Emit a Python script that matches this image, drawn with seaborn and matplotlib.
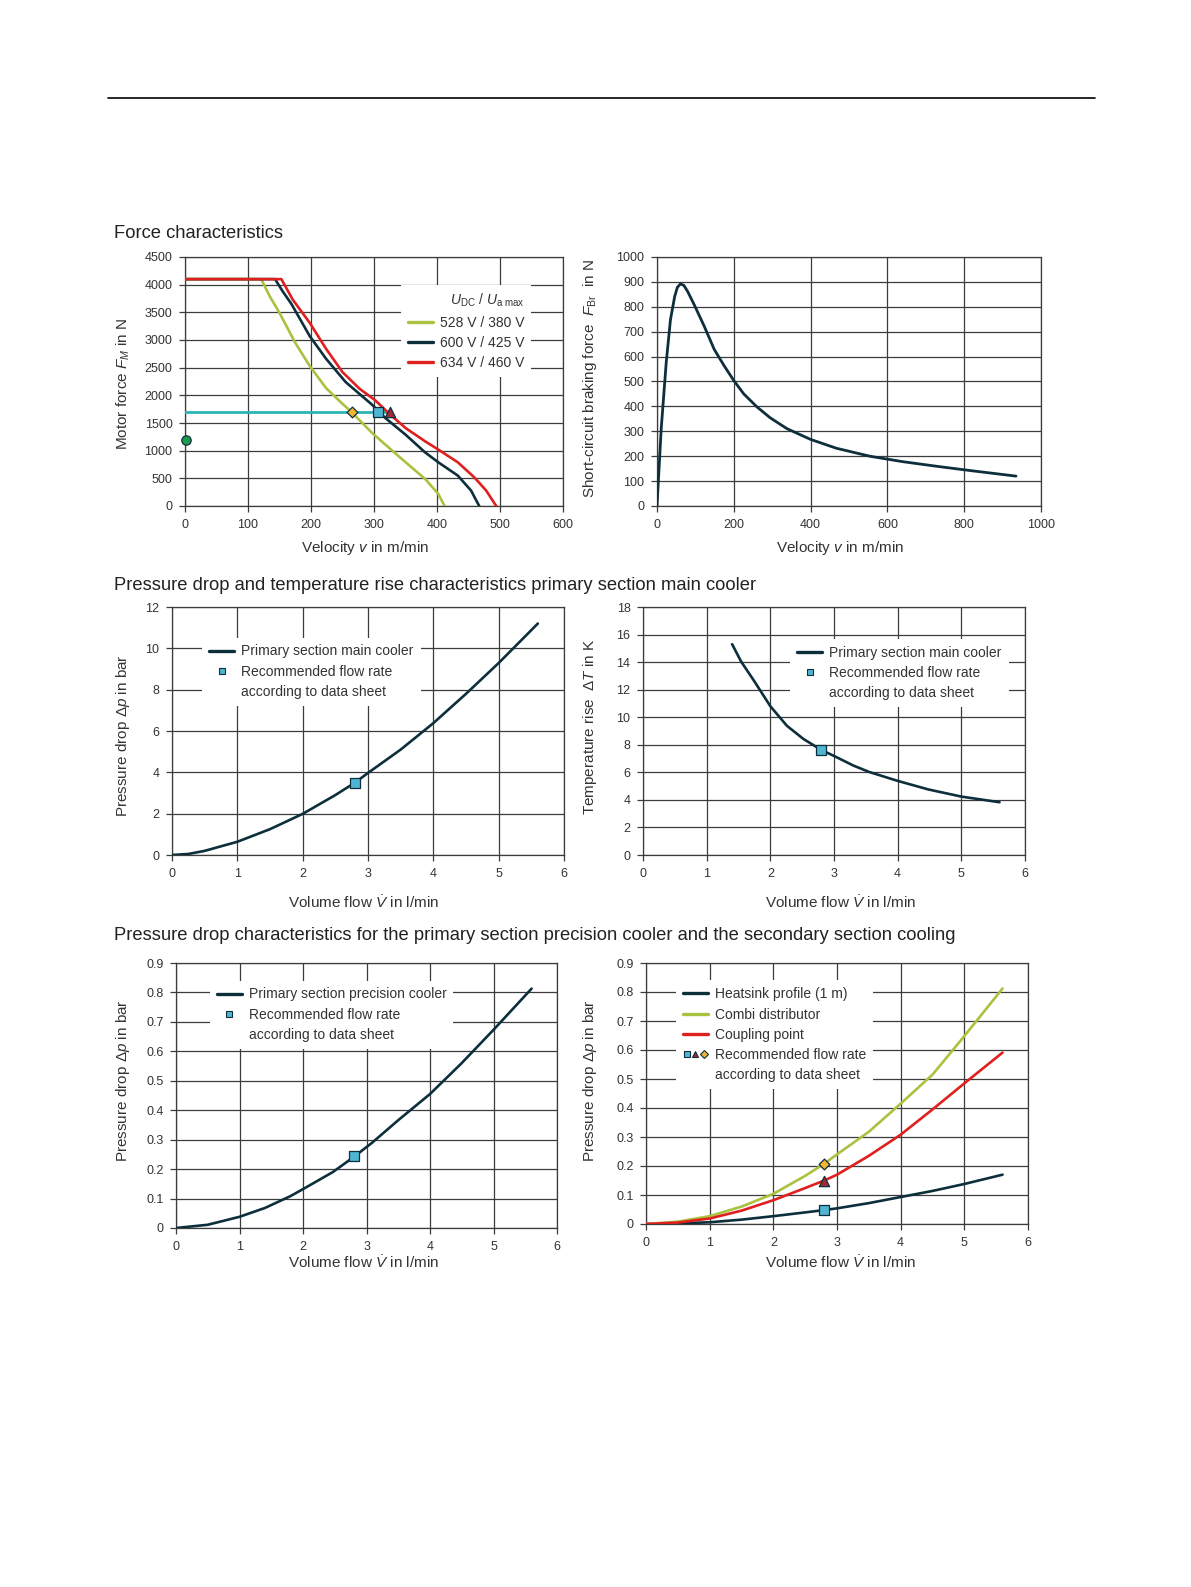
import numpy as np
import pandas as pd
import matplotlib
matplotlib.use("Agg")
import matplotlib.pyplot as plt
from matplotlib.lines import Line2D
from matplotlib.legend_handler import HandlerTuple
import seaborn as sns

# ---- values ----
# force characteristics: velocity in m/min, motor force in N
v_528 = [0, 121, 135, 150, 175, 198, 224, 245, 265, 297, 339, 381, 402, 412]
f_528 = [4100, 4100, 3780, 3490, 2950, 2530, 2130, 1900, 1690, 1320, 900, 490, 220, 0]
v_600 = [0, 143, 155, 169, 198, 224, 255, 297, 318, 350, 381, 402, 433, 454, 467]
f_600 = [4100, 4100, 3880, 3650, 3070, 2660, 2240, 1830, 1590, 1290, 970, 790, 550, 280, 0]
v_634 = [0, 153, 171, 198, 224, 250, 277, 302, 323, 350, 381, 402, 433, 459, 478, 494]
f_634 = [4100, 4100, 3730, 3310, 2840, 2420, 2120, 1910, 1680, 1410, 1170, 1020, 790, 520, 280, 0]
v_rated_line = [0, 325]
f_rated_line = [1690, 1690]
v_pts = [265, 306, 325]          # diamond / square / triangle on the rated line
f_pts = [1690, 1690, 1690]
v_dot, f_dot = [1], [1200]

# short-circuit braking force
v_br = [0, 11, 24, 35, 46, 53, 61, 70, 80, 97, 123, 149, 175, 199, 226, 261, 295, 338,
        399, 467, 554, 640, 726, 812, 935]
f_br = [0, 311, 576, 748, 841, 878, 892, 886, 861, 808, 722, 629, 563, 506, 450, 397, 354, 311,
        268, 232, 200, 178, 160, 143, 120]

# primary section main cooler
q_mc = [0, 0.25, 0.5, 1, 1.5, 2, 2.5, 2.8, 3, 3.5, 4, 4.5, 5, 5.6]
dp_mc = [0, 0.05, 0.2, 0.64, 1.25, 1.99, 2.9, 3.5, 3.97, 5.1, 6.38, 7.8, 9.29, 11.2]
q_t = [1.4, 1.54, 1.75, 2.0, 2.26, 2.52, 2.8, 3.04, 3.3, 3.55, 4.0, 4.48, 5.0, 5.6]
dT = [15.3, 14.05, 12.6, 10.8, 9.38, 8.42, 7.63, 7.1, 6.5, 6.03, 5.38, 4.76, 4.24, 3.83]
rec_mc = (2.8, 3.5)
rec_t = (2.8, 7.6)

# primary section precision cooler
q_pc = [0, 0.5, 1, 1.4, 1.8, 2.0, 2.47, 2.81, 3.09, 3.51, 4.0, 4.49, 5.0, 5.6]
dp_pc = [0, 0.011, 0.038, 0.068, 0.108, 0.132, 0.19, 0.243, 0.29, 0.368, 0.455, 0.558, 0.673, 0.813]
rec_pc = (2.8, 0.243)

# secondary section
q_s = [0, 0.5, 1, 1.5, 2, 2.5, 2.8, 3, 3.5, 4, 4.5, 5, 5.6]
dp_hs = [0, 0.002, 0.006, 0.015, 0.027, 0.040, 0.048, 0.054, 0.072, 0.093, 0.114, 0.138, 0.170]
dp_cd = [0, 0.008, 0.027, 0.060, 0.104, 0.166, 0.208, 0.240, 0.318, 0.415, 0.515, 0.648, 0.812]
dp_cp = [0, 0.005, 0.019, 0.046, 0.082, 0.124, 0.150, 0.170, 0.235, 0.308, 0.395, 0.485, 0.591]
rec_s = (2.8, [0.048, 0.150, 0.208])

tick_01 = ["0", "0.1", "0.2", "0.3", "0.4", "0.5", "0.6", "0.7", "0.8", "0.9"]

NAVY = "#0d2f3c"
LIME = "#a9c23f"
RED = "#e0201f"
TEAL = "#2bb3b5"
SQ = "#4fb5d3"
DIA = "#f2b531"
TRI = "#9e2a36"
GRID = "#3c3c3c"
TXT = "#333333"

sns.set_theme(style="white")
plt.rcParams["font.family"] = ["Liberation Sans", "DejaVu Sans"]
plt.rcParams["mathtext.fontset"] = "custom"
plt.rcParams["mathtext.rm"] = "Liberation Sans"
plt.rcParams["mathtext.it"] = "Liberation Sans:italic"

W, H = 1191, 1587
fig = plt.figure(figsize=(W / 100, H / 100), dpi=100)


def ax_at(l, r, t, b):
    return fig.add_axes([l / W, 1 - b / H, (r - l) / W, (b - t) / H])


def style(ax, xmax, xstep, ymax, ystep, ylabels=None):
    ax.set_xlim(0, xmax)
    ax.set_ylim(0, ymax)
    ax.set_xticks(np.arange(0, xmax + xstep / 2, xstep))
    ax.set_yticks(np.arange(0, ymax + ystep / 2, ystep))
    if ylabels is not None:
        ax.set_yticklabels(ylabels)
    ax.grid(True, color=GRID, lw=0.9)
    ax.set_axisbelow(True)
    for s in ax.spines.values():
        s.set_color(GRID)
        s.set_linewidth(0.9)
    ax.tick_params(left=True, bottom=True, length=4, width=0.9, color=GRID,
                   labelsize=9, labelcolor=TXT, pad=5)
    ax.set_xlabel("")
    ax.set_ylabel("")


def line(ax, x, y, c, lw=1.9):
    sns.lineplot(x=x, y=y, ax=ax, color=c, lw=lw, legend=False, zorder=3)


def mark(ax, x, y, m, c, s=48):
    sns.scatterplot(x=x, y=y, ax=ax, marker=m, s=s, color=c, edgecolor=NAVY,
                    linewidth=0.9, legend=False, zorder=5, clip_on=False)


def leg(ax, handles, labels, anchor, loc, **kw):
    lg = ax.legend(handles, labels, loc=loc, bbox_to_anchor=anchor, fontsize=10,
                   frameon=True, framealpha=1, facecolor="white", edgecolor="none",
                   fancybox=False, handlelength=1.8, handletextpad=0.5,
                   labelspacing=0.45, borderpad=0.5, **kw)
    for t in lg.get_texts():
        t.set_color(TXT)
    lg.set_zorder(10)
    return lg


blank = Line2D([], [], ls="none")


def lh(c):
    return Line2D([], [], color=c, lw=2.4)


def mh(m, c, ms=4.5):
    return Line2D([], [], ls="none", marker=m, ms=ms, mfc=c, mec=NAVY, mew=0.8)


def label(x, y, s, rot=0):
    fig.text(x / W, 1 - y / H, s, ha="center", va="center", rotation=rot,
             fontsize=11, color=TXT)


# header rule and section titles
fig.add_artist(Line2D([108 / W, 1095 / W], [1 - 98 / H, 1 - 98 / H], color="black", lw=1.2))
for y, s in [(233, "Force characteristics"),
             (585, "Pressure drop and temperature rise characteristics primary section main cooler"),
             (936, "Pressure drop characteristics for the primary section precision cooler and the secondary section cooling")]:
    fig.text(114 / W, 1 - y / H, s, ha="left", va="center", fontsize=13.2, color="#222222")

# ---- force characteristics ----
a1 = ax_at(185, 563, 257, 506)
line(a1, v_rated_line, f_rated_line, TEAL, lw=2.0)
line(a1, v_528, f_528, LIME)
line(a1, v_600, f_600, NAVY)
line(a1, v_634, f_634, RED)
mark(a1, v_pts[:1], f_pts[:1], "D", DIA, s=30)
mark(a1, v_pts[1:2], f_pts[1:2], "s", SQ, s=60)
mark(a1, v_pts[2:], f_pts[2:], "^", TRI, s=55)
mark(a1, v_dot, f_dot, "o", "#1e9a50", s=45)
style(a1, 600, 100, 4500, 500)
lg = leg(a1, [lh(LIME), lh(NAVY), lh(RED)],
         ["528 V / 380 V", "600 V / 425 V", "634 V / 460 V"], (0.935, 0.915), "upper right",
         title=r"$U_\mathrm{DC}$ / $U_\mathrm{a\ max}$", title_fontsize=10, alignment="right")
lg.get_title().set_color(TXT)
label(365, 548, r"Velocity $v$ in m/min")
label(123, 384, r"Motor force $F_M$ in N", 90)

a2 = ax_at(657, 1041, 257, 506)
line(a2, v_br, f_br, NAVY, lw=2.0)
style(a2, 1000, 200, 1000, 100)
label(840, 548, r"Velocity $v$ in m/min")
label(590, 379, r"Short-circuit braking force  $F_\mathrm{Br}$  in N", 90)

# ---- main cooler ----
a3 = ax_at(172, 564, 607, 855)
line(a3, q_mc, dp_mc, NAVY)
mark(a3, [rec_mc[0]], [rec_mc[1]], "s", SQ, s=55)
style(a3, 6, 1, 12, 2)
leg(a3, [lh(NAVY), mh("s", SQ), blank],
    ["Primary section main cooler", "Recommended flow rate", "according to data sheet"],
    (0.06, 0.905), "upper left")
label(364, 903, r"Volume flow $\dot{V}$ in l/min")
label(123, 736, r"Pressure drop $\mathit{\Delta p}$ in bar", 90)

a4 = ax_at(643, 1025, 607, 855)
line(a4, q_t, dT, NAVY)
mark(a4, [rec_t[0]], [rec_t[1]], "s", SQ, s=55)
style(a4, 6, 1, 18, 2)
leg(a4, [lh(NAVY), mh("s", SQ), blank],
    ["Primary section main cooler", "Recommended flow rate", "according to data sheet"],
    (0.975, 0.9), "upper right")
label(841, 903, r"Volume flow $\dot{V}$ in l/min")
label(590, 727, r"Temperature rise  $\mathit{\Delta T}$ in K", 90)

# ---- precision cooler / secondary section ----
a5 = ax_at(176, 557, 963, 1228)
line(a5, q_pc, dp_pc, NAVY)
mark(a5, [rec_pc[0]], [rec_pc[1]], "s", SQ, s=55)
style(a5, 6, 1, 0.9, 0.1, tick_01)
leg(a5, [lh(NAVY), mh("s", SQ), blank],
    ["Primary section precision cooler", "Recommended flow rate", "according to data sheet"],
    (0.07, 0.96), "upper left")
label(364, 1263, r"Volume flow $\dot{V}$ in l/min")
label(123, 1081, r"Pressure drop $\mathit{\Delta p}$ in bar", 90)

a6 = ax_at(646, 1028, 963, 1224)
line(a6, q_s, dp_hs, NAVY)
line(a6, q_s, dp_cd, LIME)
line(a6, q_s, dp_cp, RED)
mark(a6, [rec_s[0]], [rec_s[1][0]], "s", SQ, s=55)
mark(a6, [rec_s[0]], [rec_s[1][1]], "^", TRI, s=55)
mark(a6, [rec_s[0]], [rec_s[1][2]], "D", DIA, s=30)
style(a6, 6, 1, 0.9, 0.1, tick_01)
leg(a6, [lh(NAVY), lh(LIME), lh(RED), (mh("s", SQ), mh("^", TRI), mh("D", DIA, 4)), blank],
    ["Heatsink profile (1 m)", "Combi distributor", "Coupling point",
     "Recommended flow rate", "according to data sheet"],
    (0.06, 0.96), "upper left", handler_map={tuple: HandlerTuple(ndivide=None, pad=0.1)})
label(841, 1263, r"Volume flow $\dot{V}$ in l/min")
label(590, 1081, r"Pressure drop $\mathit{\Delta p}$ in bar", 90)

fig.savefig("out.png", dpi=100, facecolor="white")
